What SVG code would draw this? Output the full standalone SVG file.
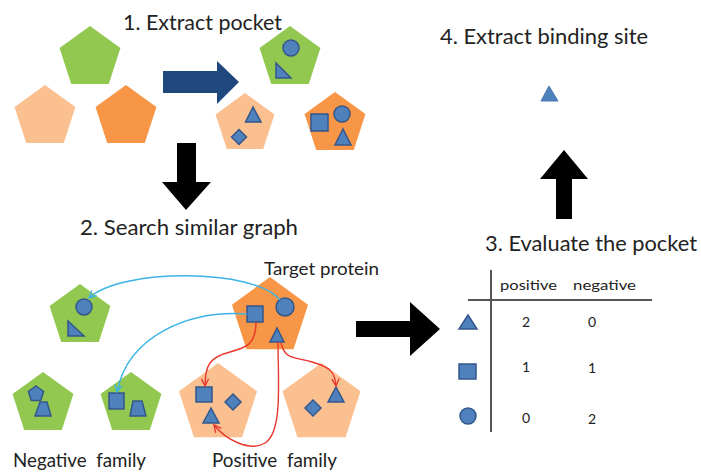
<svg xmlns="http://www.w3.org/2000/svg" xmlns:xlink="http://www.w3.org/1999/xlink" width="701" height="472" viewBox="0 0 701 472">
<style>
.g{fill:#92C850}
.lo{fill:#FAC090}
.o{fill:#F79646}
.b{fill:#4F81BD;stroke:#34578A;stroke-width:1.5}
.t{font-family:Lato,"Liberation Sans",sans-serif;fill:#222}
.big{font-size:21px}
.mid{font-size:19px}
.sm{font-size:14px}
.num{font-size:14px;text-anchor:middle}
.blk{fill:#000}
.cb{fill:none;stroke:#3DB4E5;stroke-width:1.5}
.cr{fill:none;stroke:#E8372C;stroke-width:1.4}
.tl{stroke:#555;stroke-width:2;fill:none}
</style>
<defs>
<polygon id="pent" points="0,-1 0.9511,-0.309 0.5878,0.809 -0.5878,0.809 -0.9511,-0.309"/>
<marker id="ab" viewBox="0 0 10 10" refX="9" refY="5" markerWidth="9" markerHeight="9" markerUnits="userSpaceOnUse" orient="auto"><path d="M1,1 L9,5 L1,9" fill="none" stroke="#3DB4E5" stroke-width="1.5"/></marker>
<marker id="ar" viewBox="0 0 10 10" refX="9" refY="5" markerWidth="9" markerHeight="9" markerUnits="userSpaceOnUse" orient="auto"><path d="M1,1 L9,5 L1,9" fill="none" stroke="#E8372C" stroke-width="1.5"/></marker>
</defs>

<g id="labels">
<text class="t big" x="123" y="30" textLength="159" lengthAdjust="spacingAndGlyphs">1. Extract pocket</text>
<text class="t big" x="80" y="235" textLength="218" lengthAdjust="spacingAndGlyphs">2. Search similar graph</text>
<text class="t big" x="485" y="251" textLength="212" lengthAdjust="spacingAndGlyphs">3. Evaluate the pocket</text>
<text class="t big" x="440" y="44" textLength="208" lengthAdjust="spacingAndGlyphs">4. Extract binding site</text>
<text class="t" style="font-size:17px" x="264" y="275" textLength="115" lengthAdjust="spacingAndGlyphs">Target protein</text>
<text class="t mid" x="13" y="467" xml:space="preserve" textLength="133" lengthAdjust="spacingAndGlyphs">Negative  family</text>
<text class="t mid" x="212" y="467" xml:space="preserve" textLength="125" lengthAdjust="spacingAndGlyphs">Positive  family</text>
</g>

<g id="step1-input">
<use xlink:href="#pent" class="g" transform="translate(90,58) scale(32)"/>
<use xlink:href="#pent" class="lo" transform="translate(45,117) scale(32)"/>
<use xlink:href="#pent" class="o" transform="translate(126,117) scale(32)"/>
</g>

<g id="step1-arrow">
<polygon points="163,71 217,71 217,61 239,82 217,104 217,93 163,93" fill="#1F497D"/>
</g>

<g id="pocket-green">
<use xlink:href="#pent" class="g" transform="translate(290,58) scale(32)"/>
<circle class="b" cx="291" cy="48" r="8"/>
<polygon class="b" points="276,63 276,78 291,78"/>
</g>
<g id="pocket-lightorange">
<use xlink:href="#pent" class="lo" transform="translate(245,124) scale(31)"/>
<polygon class="b" points="253,107 245.5,122 261,122"/>
<polygon class="b" points="239,129.5 246.5,137 239,144.5 231.5,137"/>
</g>
<g id="pocket-orange">
<use xlink:href="#pent" class="o" transform="translate(335,124) scale(32)"/>
<rect class="b" x="311" y="114" width="17" height="17"/>
<circle class="b" cx="342" cy="114" r="8"/>
<polygon class="b" points="343,129 335,145 351,145"/>
</g>

<g id="arrow-down">
<polygon class="blk" points="177,143 196,143 196,182 211,182 186,210 162,182 177,182"/>
</g>

<g id="neg-green-top">
<use xlink:href="#pent" class="g" transform="translate(80,316) scale(32)"/>
<circle class="b" cx="84" cy="307" r="8"/>
<polygon class="b" points="68,321 68,336 84,336"/>
</g>

<g id="target-protein">
<use xlink:href="#pent" class="o" transform="translate(270,317) scale(40)"/>
<rect class="b" x="247" y="306" width="16" height="16"/>
<circle class="b" cx="285" cy="307" r="9"/>
<polygon class="b" points="277,328 270,342 284,342"/>
</g>

<g id="neg-green-1">
<use xlink:href="#pent" class="g" transform="translate(43,404) scale(32)"/>
<polygon class="b" points="36,386 43.6,391.5 40.7,400.5 31.3,400.5 28.4,391.5"/>
<polygon class="b" points="40,402 47,402 51,416 35,416"/>
</g>
<g id="neg-green-2">
<use xlink:href="#pent" class="g" transform="translate(131,404) scale(32)"/>
<rect class="b" x="109" y="393" width="15" height="16"/>
<polygon class="b" points="133,401 142,401 146,416 130,416"/>
</g>
<g id="pos-lightorange-1">
<use xlink:href="#pent" class="lo" transform="translate(218,404) scale(41)"/>
<rect class="b" x="196" y="387" width="16" height="15"/>
<polygon class="b" points="233,394 241,402 233,410 225,402"/>
<polygon class="b" points="211,408 203,423 219,423"/>
</g>
<g id="pos-lightorange-2">
<use xlink:href="#pent" class="lo" transform="translate(321.5,404) scale(41)"/>
<polygon class="b" points="313,400 321,408 313,416 305,408"/>
<polygon class="b" points="336,387 328,402 344,402"/>
</g>

<g id="connectors">
<path class="cb" d="M280,300 C255,268 120,268 89,298" marker-end="url(#ab)"/>
<path class="cb" d="M247,314 C190,310 128,335 117,392" marker-end="url(#ab)"/>
<path class="cr" d="M256,322 C256,345 245,348 230,352 C210,357 205,365 205,386" marker-end="url(#ar)"/>
<path class="cr" d="M278,342 C278,380 283,432 265,443 C250,452 226,440 214,425" marker-end="url(#ar)"/>
<path class="cr" d="M281,343 C285,360 295,357 312,362 C330,367 335,372 336,386" marker-end="url(#ar)"/>
</g>

<g id="arrow-right">
<polygon class="blk" points="356,321 410,321 410,302 440,329 410,356 410,337 356,337"/>
</g>

<g id="table">
<line class="tl" x1="491" y1="270" x2="491" y2="432"/>
<line class="tl" x1="468" y1="300" x2="652" y2="300"/>
<text class="t sm" x="500" y="290" textLength="57" lengthAdjust="spacingAndGlyphs">positive</text>
<text class="t sm" x="573" y="290" textLength="63" lengthAdjust="spacingAndGlyphs">negative</text>
<polygon class="b" points="468,315 459,329 477,329"/>
<rect class="b" x="459" y="364" width="17" height="15"/>
<circle class="b" cx="468" cy="416" r="8"/>
<text class="t num" x="526" y="327">2</text>
<text class="t num" x="592" y="327">0</text>
<text class="t num" x="526" y="372">1</text>
<text class="t num" x="592" y="373">1</text>
<text class="t num" x="526" y="423">0</text>
<text class="t num" x="592" y="424">2</text>
</g>

<g id="arrow-up">
<polygon class="blk" points="556,219 572,219 572,179 588,179 564,150 540,179 556,179"/>
</g>

<g id="binding-site">
<polygon points="549,86 541,101 558,101" fill="#4F81BD" stroke="#4A78B0" stroke-width="1"/>
</g>
</svg>
